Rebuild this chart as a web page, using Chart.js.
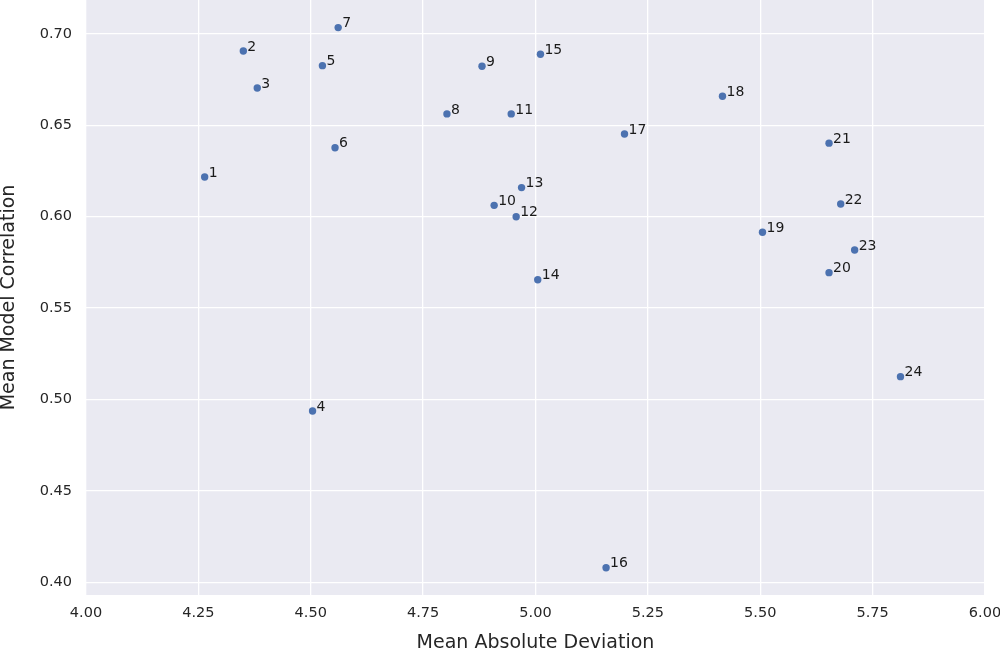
<!DOCTYPE html>
<html>
<head>
<meta charset="utf-8">
<script src="https://cdn.jsdelivr.net/npm/chart.js@4"></script>
<style>
  body { margin: 0; background: #fff; }
</style>
</head>
<body>
<canvas id="scatter" width="1000" height="651"></canvas>
<script>
// values
var pointLabels = ["1", "2", "3", "4", "5", "6", "7", "8", "9", "10", "11", "12",
    "13", "14", "15", "16", "17", "18", "19", "20", "21", "22", "23", "24"];
var meanAbsDev = [4.264, 4.350, 4.381, 4.504, 4.526, 4.554, 4.561, 4.803, 4.881, 4.908, 4.946, 4.957,
    4.969, 5.005, 5.011, 5.157, 5.198, 5.416, 5.505, 5.653, 5.653, 5.679, 5.710, 5.812];
var meanCorr = [0.6217, 0.6906, 0.6704, 0.4937, 0.6826, 0.6377, 0.7034, 0.6562, 0.6823, 0.6062, 0.6562, 0.6000,
    0.6159, 0.5655, 0.6888, 0.4080, 0.6452, 0.6659, 0.5915, 0.5694, 0.6402, 0.6069, 0.5818, 0.5125];
var xTicks = [4.00, 4.25, 4.50, 4.75, 5.00, 5.25, 5.50, 5.75, 6.00];
var yTicks = [0.40, 0.45, 0.50, 0.55, 0.60, 0.65, 0.70];

var points = meanAbsDev.map(function (x, i) {
    return { x: x, y: meanCorr[i] };
});

var plotBackground = {
    id: "plotBackground",
    beforeDraw: function (chart) {
        var a = chart.chartArea;
        var ctx = chart.ctx;
        ctx.save();
        ctx.fillStyle = "#EAEAF2";
        ctx.fillRect(a.left, a.top, a.right - a.left, a.bottom - a.top);
        ctx.restore();
    },
};

var pointText = {
    id: "pointText",
    afterDatasetsDraw: function (chart) {
        var ctx = chart.ctx;
        var meta = chart.getDatasetMeta(0);
        ctx.save();
        ctx.font = "14px 'DejaVu Sans'";
        ctx.fillStyle = "#1a1a1a";
        ctx.textAlign = "left";
        ctx.textBaseline = "middle";
        meta.data.forEach(function (el, i) {
            ctx.fillText(pointLabels[i], el.x + 4, el.y - 4);
        });
        ctx.restore();
    },
};

var ctx = document.getElementById("scatter").getContext("2d");

var scatterChart = new Chart(ctx, {
    type: "scatter",
    data: {
        datasets: [{
            data: points,
            backgroundColor: "#4C72B0",
            borderWidth: 0,
            pointRadius: 3.7,
            pointHoverRadius: 3.7,
        }],
    },
    options: {
        responsive: false,
        animation: false,
        layout: {
            autoPadding: false, // points would otherwise push the plot top down
            padding: { left: 0, right: 15, top: 0, bottom: 0 },
        },
        plugins: {
            legend: { display: false },
            tooltip: { enabled: false },
        },
        scales: {
            x: {
                type: "linear",
                min: 4.0,
                max: 6.0,
                afterBuildTicks: function (scale) {
                    scale.ticks = xTicks.map(function (v) { return { value: v }; });
                },
                afterFit: function (scale) {
                    scale.height = 56;
                    scale.paddingLeft = 0;
                    scale.paddingRight = 0;
                },
                grid: { color: "#ffffff", lineWidth: 1.3, drawTicks: false },
                border: { display: false },
                ticks: {
                    color: "#262626",
                    padding: 10,
                    font: { family: "DejaVu Sans", size: 14.5 },
                    maxRotation: 0,
                    callback: function (v) { return v.toFixed(2); },
                },
                title: {
                    display: true,
                    text: "Mean Absolute Deviation",
                    color: "#262626",
                    font: { family: "DejaVu Sans", size: 19 },
                    padding: { top: 0, bottom: -3 },
                },
            },
            y: {
                type: "linear",
                min: 0.3931,
                max: 0.7185,
                afterBuildTicks: function (scale) {
                    scale.ticks = yTicks.map(function (v) { return { value: v }; });
                },
                afterFit: function (scale) {
                    scale.width = 86;
                    scale.paddingTop = 0;
                    scale.paddingBottom = 0;
                },
                grid: { color: "#ffffff", lineWidth: 1.3, drawTicks: false },
                border: { display: false },
                ticks: {
                    color: "#262626",
                    padding: 14,
                    font: { family: "DejaVu Sans", size: 14.5 },
                    callback: function (v) { return v.toFixed(2); },
                },
                title: {
                    display: true,
                    text: "Mean Model Correlation",
                    color: "#262626",
                    font: { family: "DejaVu Sans", size: 19 },
                    padding: { top: -2, bottom: 0 },
                },
            },
        },
    },
    plugins: [plotBackground, pointText],
});
</script>
</body>
</html>
